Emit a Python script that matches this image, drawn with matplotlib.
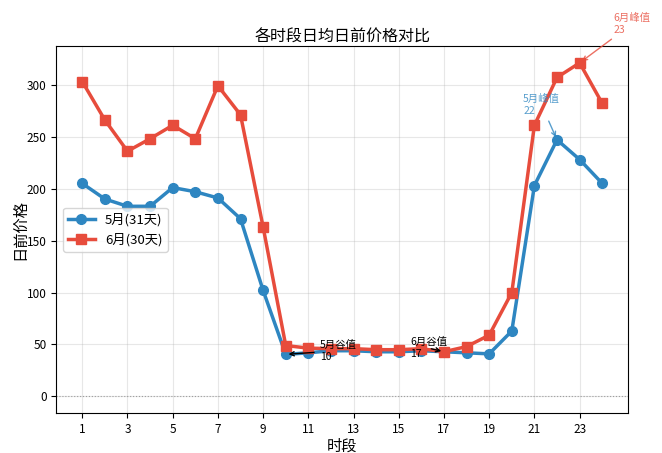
import numpy as np
import matplotlib
matplotlib.use('Agg')
import matplotlib.pyplot as plt

plt.rcParams['font.family'] = ['Noto Sans CJK SC', 'DejaVu Sans']
plt.rcParams['axes.unicode_minus'] = False

hours = list(range(1, 25))
may = [205, 190, 183, 183, 201, 197, 191, 171, 102, 40.5, 42, 44, 44, 43,
       43, 44, 43, 42, 41, 63, 203, 247, 228, 205]
june = [303, 266, 236, 248, 261, 248, 299, 271, 163, 49, 46.5, 46, 46, 45,
        45, 46, 43, 48, 59, 100, 261, 307, 321, 282]

c_may = '#2E86C1'
c_june = '#E74C3C'

fig = plt.figure(figsize=(6.62, 4.53), dpi=100)
ax = fig.add_axes([0.085, 0.088, 0.864, 0.81])

ax.plot(hours, may, '-o', color=c_may, lw=2.5, ms=7, label='5月(31天)')
ax.plot(hours, june, '-s', color=c_june, lw=2.5, ms=7, label='6月(30天)')
ax.axhline(0, color='gray', ls=':', lw=0.8, alpha=0.7)

# 峰值 / 谷值
i = int(np.argmax(may))
ax.annotate(f'5月峰值\n{hours[i]}', xy=(hours[i], may[i]), xytext=(hours[i] - 1.5, may[i] + 25),
            color=c_may, alpha=0.8, fontsize=7.5,
            arrowprops=dict(arrowstyle='->', color=c_may, alpha=0.8))
i = int(np.argmax(june))
ax.annotate(f'6月峰值\n{hours[i]}', xy=(hours[i], june[i]), xytext=(hours[i] + 1.5, june[i] + 29),
            color=c_june, alpha=0.8, fontsize=7.5, annotation_clip=False,
            arrowprops=dict(arrowstyle='->', color=c_june, alpha=0.8))
i = int(np.argmin(may))
ax.annotate(f'5月谷值\n{hours[i]}', xy=(hours[i], may[i]), xytext=(hours[i] + 1.5, may[i] - 5),
            fontsize=7.5, arrowprops=dict(arrowstyle='->', color='black'))
i = int(np.argmin(june))
ax.annotate(f'6月谷值\n{hours[i]}', xy=(hours[i], june[i]), xytext=(hours[i] - 1.5, june[i] - 5),
            fontsize=7.5, arrowprops=dict(arrowstyle='->', color='black'))

ax.set_title('各时段日均日前价格对比', fontsize=11.5, pad=3)
ax.set_xlabel('时段', fontsize=11, labelpad=1)
ax.set_ylabel('日前价格', fontsize=11, labelpad=-1)
ax.set_xticks(range(1, 25, 2))
ax.tick_params(labelsize=8.5)
ax.grid(True, alpha=0.3)
ax.legend(loc='center left', fontsize=9.5)

fig.savefig('out.png', dpi=100)
